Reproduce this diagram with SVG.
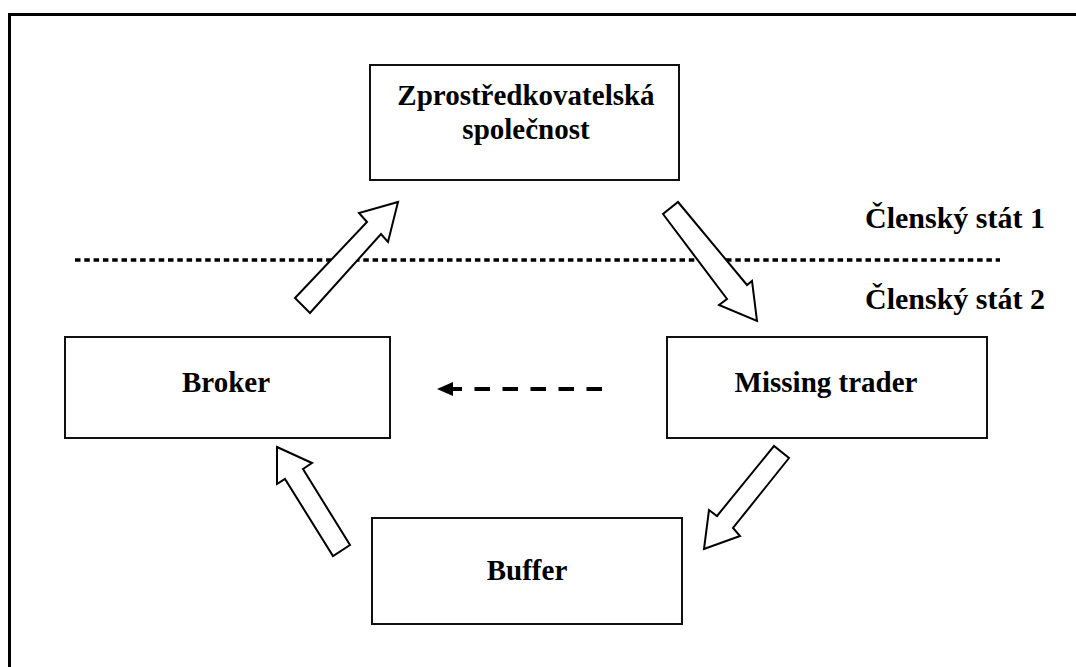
<svg xmlns="http://www.w3.org/2000/svg" width="1076" height="667" viewBox="0 0 1076 667">
<style>
.box{fill:#fff;stroke:#111;stroke-width:2}
.lbl{font-family:"Liberation Serif","Times New Roman",serif;font-weight:bold;font-size:29px;fill:#000}
.side{font-size:30px}
.blk{fill:#fff;stroke:#000;stroke-width:2;stroke-linejoin:miter}
</style>
<rect width="1076" height="667" fill="#fff"/>
<rect x="9.5" y="14.5" width="1100" height="700" fill="none" stroke="#000" stroke-width="3"/>
<line x1="75" y1="260" x2="1000" y2="260" stroke="#000" stroke-width="3.5" stroke-dasharray="5.5 3.8"/>
<text class="lbl side" x="1045" y="228" text-anchor="end">Členský stát 1</text>
<text class="lbl side" x="1045" y="309" text-anchor="end">Členský stát 2</text>
<g id="connectors">
<polygon class="blk" points="295,298 367,222 359,213 398,202 388,242 381,234 310,313"/>
<polygon class="blk" points="663,214 727,299 719,305 757,321 752,281 747,285 678,202"/>
<polygon class="blk" points="774,446 717,516 709,510 704,549 740,536 733,528 789,458"/>
<polygon class="blk" points="277,447 312,463 303,469 350,545 333,556 285,479 277,484"/>
<line x1="602" y1="389" x2="453" y2="389" stroke="#000" stroke-width="4" stroke-dasharray="15.5 12.5"/>
<path d="M437 389 L453 382 L453 396 Z" fill="#000"/>
</g>
<g id="zprostredkovatelska">
<rect class="box" x="370" y="65" width="309" height="115"/>
<text class="lbl" x="526" y="105" text-anchor="middle">Zprostředkovatelská</text>
<text class="lbl" x="526" y="139" text-anchor="middle">společnost</text>
</g>
<g id="broker">
<rect class="box" x="65" y="337" width="325" height="101"/>
<text class="lbl" x="226" y="392" text-anchor="middle">Broker</text>
</g>
<g id="missing-trader">
<rect class="box" x="667" y="337" width="320" height="101"/>
<text class="lbl" x="826" y="392" text-anchor="middle">Missing trader</text>
</g>
<g id="buffer">
<rect class="box" x="372" y="518" width="310" height="106"/>
<text class="lbl" x="527" y="580" text-anchor="middle">Buffer</text>
</g>
</svg>
